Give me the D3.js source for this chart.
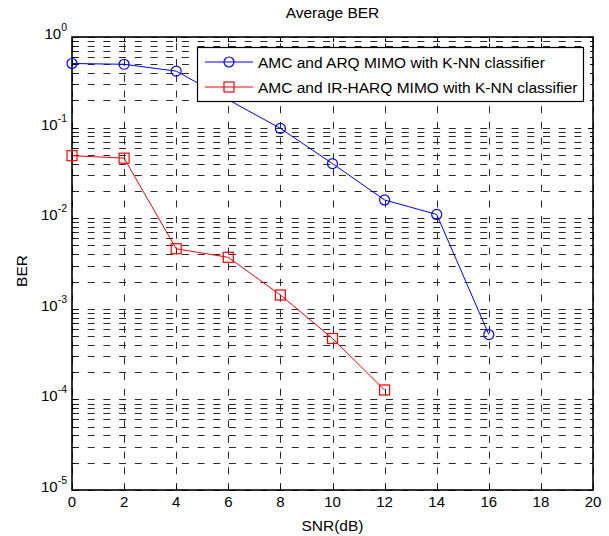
<!DOCTYPE html>
<html>
<head>
<meta charset="utf-8">
<script src="https://cdn.jsdelivr.net/npm/d3@7"></script>
<style>
  body { margin: 0; background: #fff; }
  svg { display: block; font-family: "Liberation Sans", Arial, sans-serif; }
</style>
</head>
<body>
<svg id="chart" width="609" height="536"></svg>
<script>
// SNR values (dB)
const snr = [0, 2, 4, 6, 8, 10, 12, 14, 16];
const snrRed = [0, 2, 4, 6, 8, 10, 12];
// BER for each scheme
const berArq = [0.51, 0.50, 0.42, null, 0.098, 0.040, 0.0159, 0.0110, 0.00052];
const berHarq = [0.049, 0.046, 0.0046, 0.0037, 0.00142, 0.00047, 0.000127];
const seriesNames = ["AMC and ARQ MIMO with K-NN classifier", "AMC and IR-HARQ MIMO with K-NN classifier"];
const xTicks = [0, 2, 4, 6, 8, 10, 12, 14, 16, 18, 20];
const decades = [-5, -4, -3, -2, -1, 0];

const svg = d3.select("#chart");
const margin = { left: 72, right: 16, top: 37, bottom: 46 };
const width = 609 - margin.left - margin.right;
const height = 536 - margin.top - margin.bottom;

const g = svg.append("g").attr("transform", `translate(${margin.left},${margin.top})`);

const x = d3.scaleLinear().domain([0, 20]).range([0, width]);
const y = d3.scaleLog().domain([1e-5, 1]).range([height, 0]);

// minor ticks for log axis
const yMinor = [];
decades.slice(0, -1).forEach(p => {
	for (let k = 2; k <= 9; k++) yMinor.push(k * Math.pow(10, p));
});
const yMajor = decades.map(p => Math.pow(10, p));

// grid
const grid = g.append("g").attr("stroke", "#2a2a2a").attr("stroke-width", 1).attr("stroke-dasharray", "7,8.7");
grid.selectAll(".gy").data(yMajor.concat(yMinor)).join("line")
	.attr("x1", 0).attr("x2", width)
	.attr("y1", d => Math.round(y(d)) + 0.5).attr("y2", d => Math.round(y(d)) + 0.5);
grid.selectAll(".gx").data(xTicks).join("line")
	.attr("y1", height).attr("y2", 0)
	.attr("x1", d => Math.round(x(d)) + 0.5).attr("x2", d => Math.round(x(d)) + 0.5);

// ticks inward on all sides
const ticks = g.append("g").attr("stroke", "#000").attr("stroke-width", 1);
xTicks.forEach(d => {
	const px = Math.round(x(d)) + 0.5;
	ticks.append("line").attr("x1", px).attr("x2", px).attr("y1", height).attr("y2", height - 5);
	ticks.append("line").attr("x1", px).attr("x2", px).attr("y1", 0).attr("y2", 5);
});
yMajor.forEach(d => {
	const py = Math.round(y(d)) + 0.5;
	ticks.append("line").attr("x1", 0).attr("x2", 5).attr("y1", py).attr("y2", py);
	ticks.append("line").attr("x1", width).attr("x2", width - 5).attr("y1", py).attr("y2", py);
});
yMinor.forEach(d => {
	const py = Math.round(y(d)) + 0.5;
	ticks.append("line").attr("x1", 0).attr("x2", 3).attr("y1", py).attr("y2", py);
	ticks.append("line").attr("x1", width).attr("x2", width - 3).attr("y1", py).attr("y2", py);
});

// box
g.append("rect").attr("x", 0).attr("y", 0).attr("width", width).attr("height", height)
	.attr("fill", "none").attr("stroke", "#000").attr("stroke-width", 1.6);

// tick labels
g.selectAll(".xl").data(xTicks).join("text")
	.attr("x", d => x(d)).attr("y", height + 17)
	.attr("text-anchor", "middle").attr("font-size", 15).text(d => d);

const yl = g.selectAll(".yl").data(decades).join("text")
	.attr("x", -5).attr("y", d => y(Math.pow(10, d)) + 2)
	.attr("text-anchor", "end").attr("font-size", 15);
yl.append("tspan").text("10");
yl.append("tspan").attr("dy", -8).attr("font-size", 10.5).text(d => d);

// axis titles
svg.append("text").attr("x", margin.left + width / 2).attr("y", 18)
	.attr("text-anchor", "middle").attr("font-size", 15.5).text("Average BER");
svg.append("text").attr("x", margin.left + width / 2).attr("y", 531)
	.attr("text-anchor", "middle").attr("font-size", 15.5).text("SNR(dB)");
svg.append("text").attr("transform", `translate(27,271) rotate(-90)`)
	.attr("text-anchor", "middle").attr("font-size", 15.5).text("BER");

// series
const blueData = snr.map((s, i) => [s, berArq[i]]).filter(d => d[1] !== null);
const redData = snrRed.map((s, i) => [s, berHarq[i]]);
const line = d3.line().x(d => x(d[0])).y(d => y(d[1]));

g.append("path").datum(blueData).attr("d", line).attr("fill", "none").attr("stroke", "#0000ff").attr("stroke-width", 1);
g.selectAll(".mb").data(blueData).join("circle")
	.attr("cx", d => x(d[0])).attr("cy", d => y(d[1])).attr("r", 5)
	.attr("fill", "none").attr("stroke", "#0000ff").attr("stroke-width", 1.2);

g.append("path").datum(redData).attr("d", line).attr("fill", "none").attr("stroke", "#ff0000").attr("stroke-width", 1);
g.selectAll(".mr").data(redData).join("rect")
	.attr("x", d => x(d[0]) - 5).attr("y", d => y(d[1]) - 5).attr("width", 10).attr("height", 10)
	.attr("fill", "none").attr("stroke", "#ff0000").attr("stroke-width", 1.2);

// legend
const lg = svg.append("g").attr("transform", "translate(197,47)");
lg.append("rect").attr("x", 0.5).attr("y", 0.5).attr("width", 386).attr("height", 54)
	.attr("fill", "#fff").attr("stroke", "#000").attr("stroke-width", 1.2);
const colors = ["#0000ff", "#ff0000"];
seriesNames.forEach((name, i) => {
	const ly = 15 + i * 25;
	lg.append("line").attr("x1", 8).attr("x2", 56).attr("y1", ly).attr("y2", ly)
		.attr("stroke", colors[i]).attr("stroke-width", 1);
	if (i === 0) {
		lg.append("circle").attr("cx", 32).attr("cy", ly).attr("r", 5)
			.attr("fill", "none").attr("stroke", colors[i]).attr("stroke-width", 1.2);
	} else {
		lg.append("rect").attr("x", 27).attr("y", ly - 5).attr("width", 10).attr("height", 10)
			.attr("fill", "none").attr("stroke", colors[i]).attr("stroke-width", 1.2);
	}
	lg.append("text").attr("x", 61).attr("y", ly + 5.5).attr("font-size", 15.5).text(name);
});
</script>
</body>
</html>
